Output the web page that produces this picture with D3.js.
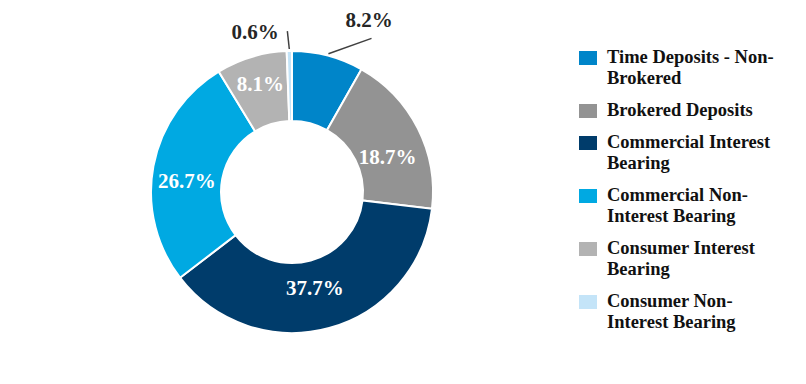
<!DOCTYPE html>
<html>
<head>
<meta charset="utf-8">
<script src="https://cdn.jsdelivr.net/npm/d3@7"></script>
<style>
  body { margin: 0; background: #fff; }
  text { font-family: "Liberation Serif", "Times New Roman", serif; font-weight: bold; }
</style>
</head>
<body>
<div id="chart"></div>
<script>
const categories = ["Time Deposits - Non-Brokered", "Brokered Deposits", "Commercial Interest Bearing",
    "Commercial Non-Interest Bearing", "Consumer Interest Bearing", "Consumer Non-Interest Bearing"];
const shares = [8.2, 18.7, 37.7, 26.7, 8.1, 0.6];
const legendLines = [["Time Deposits - Non-", "Brokered"], ["Brokered Deposits"], ["Commercial Interest", "Bearing"],
    ["Commercial Non-", "Interest Bearing"], ["Consumer Interest", "Bearing"], ["Consumer Non-", "Interest Bearing"]];
const colors = ["#0085c9", "#939393", "#003c6b", "#00a9e2", "#b3b3b3", "#c4e4f8"];

const WIDTH = 806, HEIGHT = 384,
    CX = 292, CY = 192,
    OUTER_R = 141, INNER_R = 71;

// slices shown outside with a leader line
const outside = new Set(["Time Deposits - Non-Brokered", "Consumer Non-Interest Bearing"]);
// hand tweaks to match the label placement of the original
const insideNudge = { 1: [1, 13], 2: [-5, -6], 3: [-1, 9], 4: [-1, -7] };
const leaderEnd = { 0: { angle: 0.22, r: 173, tx: 369, ty: 20 }, 5: { angle: -0.01, r: 161, tx: 255, ty: 32 } };

const data = categories.map((c, i) => ({ category: c, value: shares[i], i }));

const color = d3.scaleOrdinal().domain(categories).range(colors);

const svg = d3.select("#chart").append("svg")
    .attr("width", WIDTH)
    .attr("height", HEIGHT);

const g = svg.append("g").attr("transform", `translate(${CX}, ${CY})`);

const pie = d3.pie().value(d => d.value).sort(null);
const arc = d3.arc().innerRadius(INNER_R).outerRadius(OUTER_R);
const labelArc = d3.arc().innerRadius(106).outerRadius(106);

const arcs = pie(data);

g.selectAll("path.slice")
    .data(arcs)
    .join("path")
    .attr("class", "slice")
    .attr("d", arc)
    .attr("fill", d => color(d.data.category))
    .attr("stroke", "#fff")
    .attr("stroke-width", 2);

// inside labels
g.selectAll("text.inside")
    .data(arcs.filter(d => !outside.has(d.data.category)))
    .join("text")
    .attr("class", "inside")
    .attr("x", d => labelArc.centroid(d)[0] + (insideNudge[d.data.i] || [0, 0])[0])
    .attr("y", d => labelArc.centroid(d)[1] + (insideNudge[d.data.i] || [0, 0])[1])
    .attr("text-anchor", "middle")
    .attr("dominant-baseline", "central")
    .style("font-size", "21px")
    .style("fill", "#fff")
    .text(d => d.data.value.toFixed(1) + "%");

// outside labels with leader lines
const outerArcs = arcs.filter(d => outside.has(d.data.category));
const polar = (a, r) => [r * Math.sin(a), -r * Math.cos(a)];

g.selectAll("line.leader")
    .data(outerArcs)
    .join("line")
    .attr("class", "leader")
    .attr("x1", d => polar((d.startAngle + d.endAngle) / 2, OUTER_R + 2)[0])
    .attr("y1", d => polar((d.startAngle + d.endAngle) / 2, OUTER_R + 2)[1])
    .attr("x2", d => polar((d.startAngle + d.endAngle) / 2 + leaderEnd[d.data.i].angle, leaderEnd[d.data.i].r)[0])
    .attr("y2", d => polar((d.startAngle + d.endAngle) / 2 + leaderEnd[d.data.i].angle, leaderEnd[d.data.i].r)[1])
    .attr("stroke", "#404040")
    .attr("stroke-width", 1.5);

svg.selectAll("text.outside")
    .data(outerArcs)
    .join("text")
    .attr("class", "outside")
    .attr("x", d => leaderEnd[d.data.i].tx)
    .attr("y", d => leaderEnd[d.data.i].ty)
    .attr("text-anchor", "middle")
    .attr("dominant-baseline", "central")
    .style("font-size", "21px")
    .style("fill", "#262626")
    .text(d => d.data.value.toFixed(1) + "%");

// Legend
const LEG_X = 579, LEG_TEXT_X = 607, LINE_H = 21, GAP = 11;
let yPos = 57;
const legend = svg.append("g");
data.forEach((d, i) => {
    const item = legend.append("g");
    item.append("rect")
        .attr("x", LEG_X)
        .attr("y", yPos - 6)
        .attr("width", 18)
        .attr("height", 14)
        .attr("fill", color(d.category));
    legendLines[i].forEach((line, j) => {
        item.append("text")
            .attr("x", LEG_TEXT_X)
            .attr("y", yPos + j * LINE_H)
            .attr("dominant-baseline", "central")
            .style("font-size", "18.5px")
            .style("fill", "#111")
            .text(line);
    });
    yPos += legendLines[i].length * LINE_H + GAP;
});
</script>
</body>
</html>
